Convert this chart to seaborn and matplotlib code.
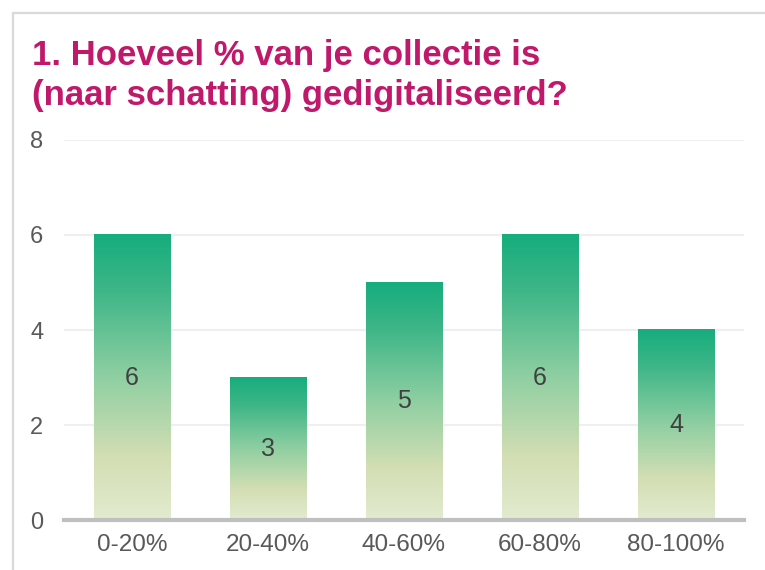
import numpy as np
import pandas as pd
import matplotlib
matplotlib.use("Agg")
import matplotlib.pyplot as plt
from matplotlib.colors import LinearSegmentedColormap
from matplotlib.lines import Line2D
import seaborn as sns

# =================== Data ===================
categories = ["0-20%", "20-40%", "40-60%", "60-80%", "80-100%"]
counts = [6, 3, 5, 6, 4]
title = "1. Hoeveel % van je collectie is\n(naar schatting) gedigitaliseerd?"

df = pd.DataFrame({"categorie": categories, "aantal": counts})

sns.set_theme(style="white")
plt.rcParams["font.family"] = ["Liberation Sans", "DejaVu Sans"]

fig = plt.figure(figsize=(7.65, 5.7), dpi=100)
ax = fig.add_axes([0.0837, 0.0877, 0.8888, 0.6667])

sns.barplot(data=df, x="categorie", y="aantal", ax=ax, width=0.56,
            color="#1aae7e", saturation=1)

# gradient: green top -> pale beige bottom
cmap = LinearSegmentedColormap.from_list(
    "grad", [(0.0, "#e2ebcf"), (0.22, "#d3deb4"), (0.5, "#8fcfa2"),
             (0.8, "#3fb688"), (1.0, "#16ad7d")])
grad = np.linspace(0, 1, 256).reshape(-1, 1)
for p in ax.patches:
    x0, y0 = p.get_x(), p.get_y()
    w, h = p.get_width(), p.get_height()
    p.set_facecolor("none")
    p.set_edgecolor("none")
    ax.imshow(grad, cmap=cmap, origin="lower", aspect="auto",
              extent=[x0, x0 + w, y0, y0 + h], zorder=2)
    ax.text(x0 + w / 2, y0 + h / 2, f"{int(h)}", ha="center", va="center",
            fontsize=18, color="#404040", zorder=3)

ax.set_xlim(-0.5, len(categories) - 0.5)
ax.set_ylim(0, 8)
ax.set_yticks([0, 2, 4, 6, 8])
ax.set_xlabel("")
ax.set_ylabel("")
ax.yaxis.grid(True, color="#efefef", linewidth=1.5, zorder=0)
ax.set_axisbelow(True)
for s in ["top", "right", "left"]:
    ax.spines[s].set_visible(False)
ax.spines["bottom"].set_color("#bfbfbf")
ax.spines["bottom"].set_linewidth(3)
ax.spines["bottom"].set_zorder(4)
ax.tick_params(axis="y", length=0, pad=15, labelsize=17, labelcolor="#595959")
ax.tick_params(axis="x", length=0, pad=10, labelsize=17.5, labelcolor="#595959")

fig.text(32 / 765, 1 - 39 / 570, title, ha="left", va="top", fontsize=25,
         fontweight="bold", color="#c0186b", linespacing=1.28)

# frame lines (top and left)
fig.add_artist(Line2D([12.5 / 765, 1], [1 - 13 / 570, 1 - 13 / 570],
                      color="#d9d9d9", linewidth=1.6))
fig.add_artist(Line2D([12.5 / 765, 12.5 / 765], [0, 1 - 13 / 570],
                      color="#d9d9d9", linewidth=1.6))

fig.savefig("out.png", dpi=100)
